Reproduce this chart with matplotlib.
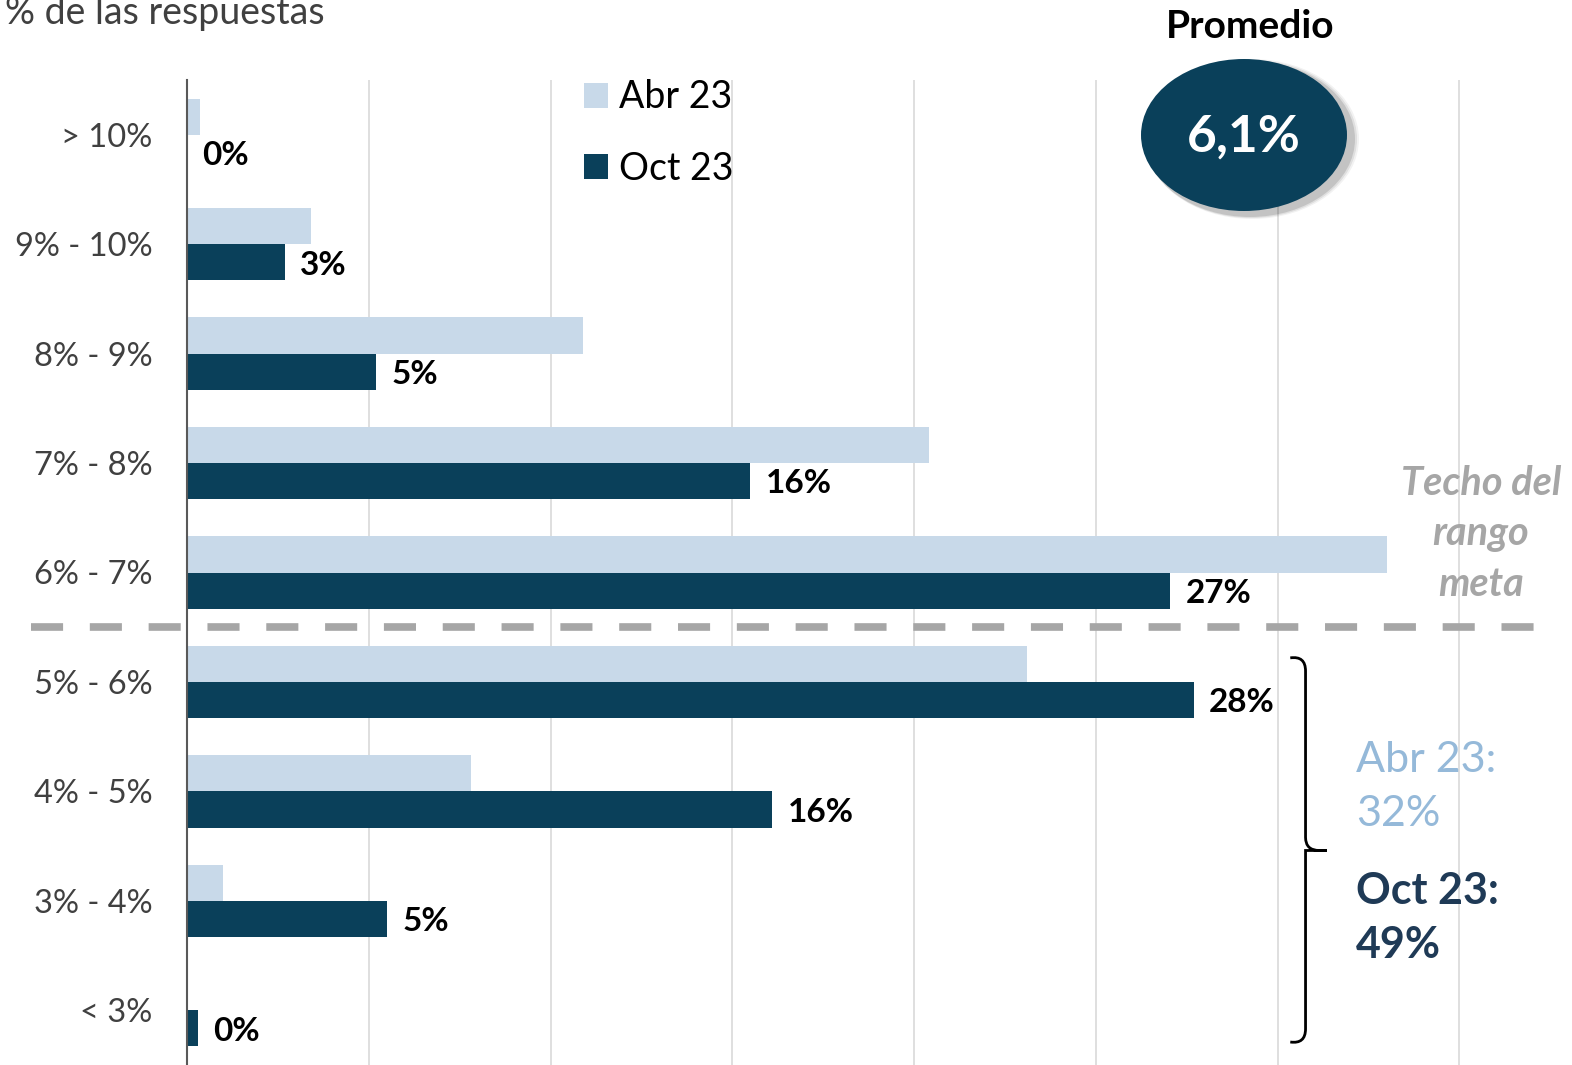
import numpy as np
import matplotlib
matplotlib.use("Agg")
import matplotlib.pyplot as plt
from matplotlib.patches import Ellipse, PathPatch, Rectangle
from matplotlib.path import Path

plt.rcParams["font.family"] = ["Lato", "DejaVu Sans"]

# ─── Data ─────────────────────────────────────────────────────────────────────
categories = ["> 10%", "9% - 10%", "8% - 9%", "7% - 8%", "6% - 7%",
              "5% - 6%", "4% - 5%", "3% - 4%", "< 3%"]
abr_23 = [0.35, 3.4, 10.9, 20.4, 33.0, 23.1, 7.8, 1.0, 0.0]
oct_23 = [0.0, 2.7, 5.2, 15.5, 27.05, 27.7, 16.1, 5.5, 0.3]
oct_labels = ["0%", "3%", "5%", "16%", "27%", "28%", "16%", "5%", "0%"]
promedio = "6,1%"
sum_abr = "32%"
sum_oct = "49%"

C_ABR = "#c8d9e9"
C_OCT = "#0a405a"
GRAY = "#a6a6a6"

# ─── Figure ───────────────────────────────────────────────────────────────────
W, H = 1572, 1065
fig = plt.figure(figsize=(W / 100, H / 100), dpi=100)
ax = fig.add_axes([187 / W, 0.0, 1 - 187 / W, 1 - 80 / H])

y = np.arange(len(categories))
h = 0.33
ax.barh(y - h / 2, abr_23, height=h, color=C_ABR, label="Abr 23", zorder=2)
ax.barh(y + h / 2, oct_23, height=h, color=C_OCT, label="Oct 23", zorder=2)

for yi, v, lab in zip(y, oct_23, oct_labels):
    ax.annotate(lab, (v, yi + h / 2), xytext=(11, -2), textcoords="offset points",
                ha="left", va="center", fontsize=24, fontweight="bold", color="black")

ax.set_xlim(0, 38.1)
ax.set_ylim(len(categories) - 0.5, -0.5)
ax.set_xticks(np.arange(5, 40, 5))
ax.set_xticklabels([])
ax.tick_params(axis="x", length=0)
ax.xaxis.grid(True, color="#d9d9d9", lw=1.2, zorder=0)
ax.set_yticks(y)
ax.set_yticklabels(categories, fontsize=23.5, color="#404040")
ax.tick_params(axis="y", length=0, pad=25)
for s in ["top", "right", "bottom"]:
    ax.spines[s].set_visible(False)
ax.spines["left"].set_color("#595959")
ax.spines["left"].set_linewidth(1.5)
ax.spines["left"].set_zorder(3)

# dashed "techo" line between 6-7 and 5-6
ax.plot([-4.3, 37.4], [4.5, 4.5], ls=(0, (4.2, 3.5)), lw=5.5, color=GRAY,
        clip_on=False, zorder=4)

# legend
leg = ax.legend(loc="upper left", bbox_to_anchor=(0.262, 1.035), frameon=False,
                fontsize=27, handlelength=0.65, handleheight=0.65,
                handletextpad=0.3, labelspacing=0.95)

# title-ish text (cut off at the top edge, as in the original)
fig.text(5 / W, 1 - 13 / H, "% de las respuestas", fontsize=27, color="#404040",
         ha="left", va="center")

# Promedio bubble
fig.text(1250 / W, 1 - 27 / H, "Promedio", fontsize=28, fontweight="bold",
         ha="center", va="center")
for k, a in [(8, 0.05), (6, 0.08), (4, 0.12)]:
    fig.patches.append(Ellipse((1248 / W + k / W * 0.5, 1 - 139 / H), (206 + k) / W,
                               (152 + k) / H, transform=fig.transFigure,
                               color="black", alpha=a, lw=0))
fig.patches.append(Ellipse((1244 / W, 1 - 135 / H), 206 / W, 152 / H,
                           transform=fig.transFigure, color=C_OCT, lw=0))
fig.text(1244 / W, 1 - 137 / H, promedio, fontsize=37, fontweight="bold",
         color="white", ha="center", va="center")

# Techo del rango meta
fig.text(1481 / W, 1 - 534 / H, "Techo del\nrango\nmeta", fontsize=28.5,
         fontweight="bold", style="italic", color=GRAY, ha="center", va="center",
         linespacing=1.45)

# curly brace for the < 6% group
bx, bm, bt = 30.35, 30.77, 31.35
y0, ym, y1 = 4.78, 6.54, 8.29
verts = [(bx, y0), (bm, y0 - 0.02), (bm, y0 + 0.12),
         (bm, ym - 0.12),
         (bm, ym), (bt - 0.2, ym), (bt, ym),
         (bt - 0.2, ym), (bm, ym), (bm, ym + 0.12),
         (bm, y1 - 0.12),
         (bm, y1 + 0.02), (bx, y1)]
codes = [Path.MOVETO, Path.CURVE3, Path.CURVE3,
         Path.LINETO,
         Path.CURVE3, Path.CURVE3, Path.LINETO,
         Path.CURVE3, Path.CURVE3, Path.LINETO,
         Path.LINETO,
         Path.CURVE3, Path.CURVE3]
ax.add_patch(PathPatch(Path(verts, codes), fill=False, lw=2, color="black",
                       clip_on=False, zorder=5))

# white box behind summary text (hides gridline)
ax.add_patch(Rectangle((32.8, 5.8), 5.3, 2.45, color="white", lw=0, zorder=1))
fig.text(1356 / W, 1 - 787 / H, f"Abr 23:\n{sum_abr}", fontsize=31,
         color="#95b9d9", ha="left", va="center", linespacing=1.5)
fig.text(1356 / W, 1 - 918 / H, f"Oct 23:\n{sum_oct}", fontsize=31,
         fontweight="bold", color="#1f3a56", ha="left", va="center",
         linespacing=1.4)

fig.savefig("out.png", dpi=100)
